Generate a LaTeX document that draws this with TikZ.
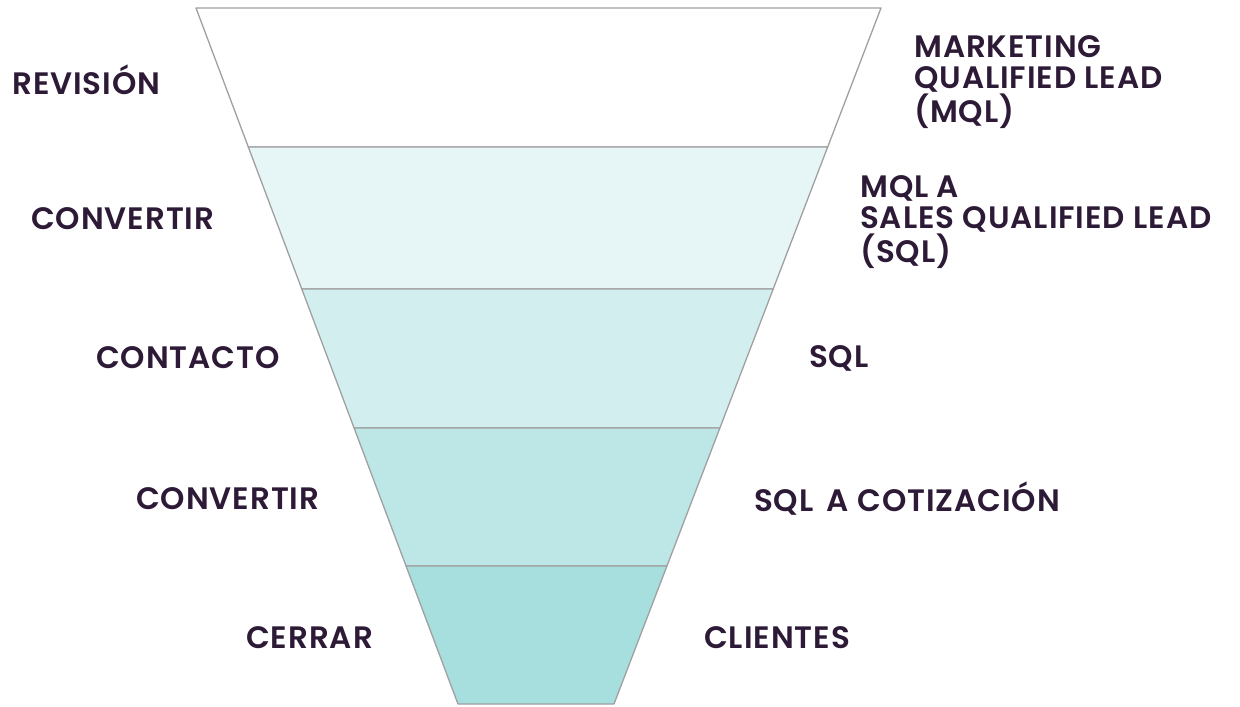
\documentclass[tikz,border=0pt]{standalone}
\usepackage{fontspec}
\setmainfont{Poppins}[BoldFont={Poppins SemiBold},LetterSpace=3]
\definecolor{txt}{HTML}{2D1A36}
\definecolor{edge}{HTML}{A0A0A0}
\definecolor{b1}{HTML}{FFFFFF}
\definecolor{b2}{HTML}{E6F5F5}
\definecolor{b3}{HTML}{D3EEEE}
\definecolor{b4}{HTML}{BDE6E6}
\definecolor{b5}{HTML}{A6DFDE}
\begin{document}
\begin{tikzpicture}[x=1pt,y=-1pt,
  lab/.style={anchor=west,inner sep=0pt,text=txt,font=\fontsize{31}{30.8}\selectfont\bfseries,align=left},
  band/.style={draw=edge,line width=1.3pt,line join=round}]
\useasboundingbox (0,0) rectangle (1240,707);
% funnel corners
\def\lx#1{196+(#1-8)/696*262}
\def\rx#1{881-(#1-8)/696*267}
\foreach \ya/\yb/\c in {8/147/b1,147/289/b2,289/428/b3,428/566/b4,566/704/b5}{
  \path[band,fill=\c] ({\lx{\ya}},\ya) -- ({\rx{\ya}},\ya) -- ({\rx{\yb}},\yb) -- ({\lx{\yb}},\yb) -- cycle;
}
\node[lab] (l1) at (12,80) {REVISIÓN};
\node[lab] (l2) at (31,219) {CONVERTIR};
\node[lab] (l3) at (96,358) {CONTACTO};
\node[lab] (l4) at (136,499) {CONVERTIR};
\node[lab] (l5) at (246,638) {CERRAR};
\node[lab] (r1) at (914,82) {MARKETING\\QUALIFIED LEAD\\(MQL)};
\node[lab] (r2) at (860,222) {MQL A\\SALES QUALIFIED LEAD\\(SQL)};
\node[lab] (r3) at (809,358) {SQL};
\node[lab] (r4) at (754,499) {SQL\hspace{5pt} A COTIZACIÓN};
\node[lab] (r5) at (704,638) {CLIENTES};
\end{tikzpicture}
\end{document}
